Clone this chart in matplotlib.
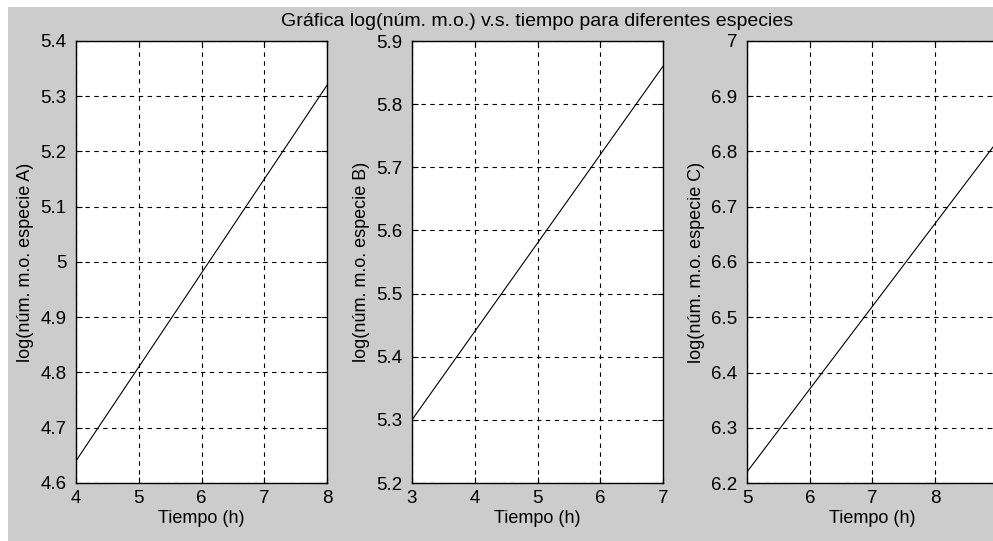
import matplotlib.pyplot as plt
from matplotlib.patches import Rectangle
from matplotlib.ticker import FormatStrFormatter, MultipleLocator

# log(num. m.o.) against time, one panel per species
tiempo_a = [4, 5, 6, 7, 8]
log_a = [4.64, 4.81, 4.98, 5.15, 5.32]
tiempo_b = [3, 4, 5, 6, 7]
log_b = [5.30, 5.44, 5.58, 5.72, 5.86]
tiempo_c = [5, 6, 7, 8, 9]
log_c = [6.22, 6.37, 6.52, 6.67, 6.82]

# x tick values shown under each panel (panel C is cut at the right edge)
xticks_a = [4, 5, 6, 7, 8]
xticks_b = [3, 4, 5, 6, 7]
xticks_c = [5, 6, 7, 8]

panels = [
    (tiempo_a, log_a, xticks_a, (4, 8), (4.6, 5.4), 'log(núm. m.o. especie A)'),
    (tiempo_b, log_b, xticks_b, (3, 7), (5.2, 5.9), 'log(núm. m.o. especie B)'),
    (tiempo_c, log_c, xticks_c, (5, 9), (6.2, 7.0), 'log(núm. m.o. especie C)'),
]
titulo = 'Gráfica log(núm. m.o.) v.s. tiempo para diferentes especies'

plt.rcParams['font.family'] = ['Liberation Sans', 'DejaVu Sans']
plt.rcParams['font.size'] = 13

W, H = 993, 541
fig = plt.figure(figsize=(W / 100, H / 100), dpi=100, facecolor='white')
# gray MATLAB-like figure background, small white strip top/left
fig.patches.append(Rectangle((8 / W, 0), 1, (H - 7) / H, transform=fig.transFigure,
                             facecolor='#cccccc', edgecolor='none', zorder=-10))

lefts = [76, 412, 747]
ax_w, ax_top, ax_bot = 251, 41, 483
for (t, y, xt, xl, yl, lab), left in zip(panels, lefts):
    ax = fig.add_axes([left / W, (H - ax_bot) / H, ax_w / W, (ax_bot - ax_top) / H])
    ax.set_facecolor('white')
    ax.plot(t, y, color='black', lw=0.8)
    ax.set_xticks(xt)
    ax.set_xlim(*xl)
    ax.set_ylim(*yl)
    ax.yaxis.set_major_locator(MultipleLocator(0.1))
    ax.yaxis.set_major_formatter(FormatStrFormatter('%g'))
    ax.xaxis.set_major_formatter(FormatStrFormatter('%g'))
    ax.grid(True, color='black', linestyle=(0, (4, 4)), lw=0.8)
    ax.tick_params(direction='in', length=4, width=0.8, top=True, right=True,
                   colors='black', labelsize=13.5)
    ax.tick_params(axis='y', pad=7)
    ax.tick_params(axis='x', pad=5)
    for s in ax.spines.values():
        s.set_linewidth(1.0)
        s.set_color('black')
    ax.set_xlabel('Tiempo (h)', fontsize=13, labelpad=2)
    ax.set_ylabel(lab, fontsize=13, labelpad=4)
    if left == 412:
        ax.set_title(titulo, fontsize=14, pad=11)

fig.savefig('out.png', dpi=100, facecolor='white')
